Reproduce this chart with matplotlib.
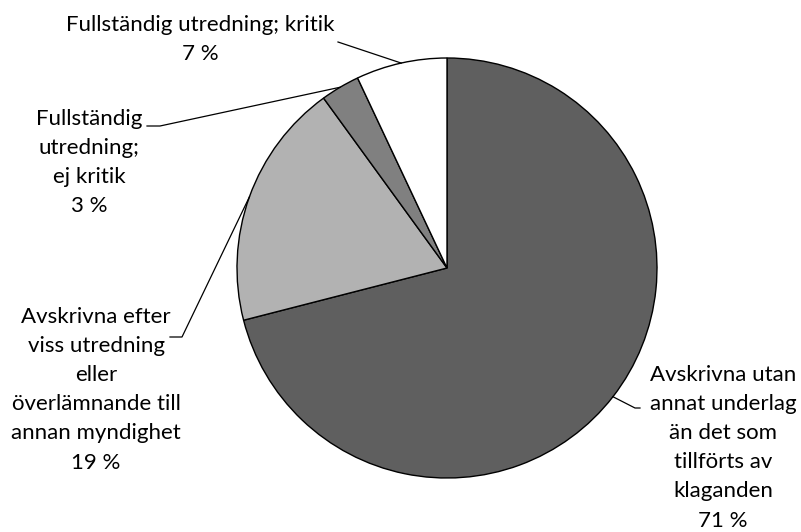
import numpy as np
import matplotlib.pyplot as plt

plt.rcParams['font.family'] = ['Lato', 'DejaVu Sans']

labels = [
    "Avskrivna utan\nannat underlag\nän det som\ntillförts av\nklaganden",
    "Avskrivna efter\nviss utredning\neller\növerlämnande till\nannan myndighet",
    "Fullständig\nutredning;\nej kritik",
    "Fullständig utredning; kritik",
]
values = [71, 19, 3, 7]
colors = ['#5f5f5f', '#b2b2b2', '#808080', '#ffffff']

W, H = 801, 532
fig = plt.figure(figsize=(W / 100, H / 100), dpi=100)
ax = fig.add_axes([0, 0, 1, 1])

cx, cy, r = 447, H - 268, 210
ax.pie(values, colors=colors, startangle=90, counterclock=False,
       center=(cx, cy), radius=r, frame=True,
       wedgeprops=dict(edgecolor='black', linewidth=1.0))
ax.set_xlim(0, W)
ax.set_ylim(0, H)
ax.set_aspect('equal')
ax.axis('off')

# label text centre (x, top y in image pixels) and leader elbow points
text_pos = [(723, 365), (96, 307), (89, 109), (200, 15)]
elbows = [
    [(640, H - 408), (635, H - 408)],
    [(170, H - 337), (182, H - 337)],
    [(147, H - 126), (160, H - 126)],
    [(338, H - 42)],
]

cum = np.cumsum([0] + values)
total = cum[-1]
for i, (lab, v) in enumerate(zip(labels, values)):
    mid = (cum[i] + v / 2) / total * 360
    th = np.deg2rad(90 - mid)
    px, py = cx + r * np.cos(th), cy + r * np.sin(th)
    pts = elbows[i] + [(px, py)]
    xs, ys = zip(*pts)
    ax.plot(xs, ys, color='black', lw=0.9)
    tx, ty = text_pos[i]
    ax.text(tx, H - ty, f"{lab}\n{v} %", ha='center', va='top',
            fontsize=16, linespacing=1.57, color='black')

fig.savefig('out.png', dpi=100)
